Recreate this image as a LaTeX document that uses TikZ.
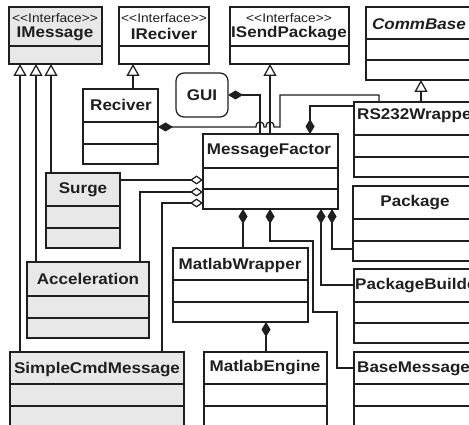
\documentclass[tikz,border=0pt]{standalone}
\usepackage{fontspec}
\setmainfont{Liberation Sans}[FakeStretch=1.1]
\usetikzlibrary{arrows.meta}

\definecolor{umlline}{gray}{0.12}
\definecolor{umlgray}{gray}{0.91}

\tikzset{
  cls/.style={draw=umlline, line width=1.25pt, fill=white, anchor=north west,
    outer sep=0pt, inner sep=0pt},
  msgbox/.style={cls, fill=umlgray},
  divline/.style={draw=umlline, line width=1.25pt},
  title/.style={font=\bfseries\fontsize{15.5}{15}\selectfont, text=umlline, inner sep=0pt},
  stereo/.style={font=\fontsize{12.5}{12}\selectfont, text=umlline, inner sep=0pt},
  link/.style={draw=umlline, line width=1.25pt},
  inh/.style={link, -{Triangle[open, length=12pt, width=13pt]}},
  comp/.style={link, {Diamond[length=15pt, width=9pt]}-},
  agg/.style={link, {Diamond[open, length=13pt, width=9pt]}-}
}

\begin{document}
\begin{tikzpicture}[x=1pt, y=-1pt]
    \useasboundingbox (0,0) rectangle (469,425);
    \clip (0,0) rectangle (469,425);

    % class boxes
    \node[msgbox, minimum width=93, minimum height=57] (imsg) at (9,7) {};
    \node[cls, minimum width=90, minimum height=57] (irec) at (119,7) {};
    \node[cls, minimum width=119, minimum height=57] (isend) at (230,7) {};
    \node[cls, minimum width=106, minimum height=73] (cbase) at (366,7) {};
    \node[cls, minimum width=124, minimum height=75] (rs232) at (354,102) {};
    \node[cls, minimum width=75, minimum height=75] (reciver) at (83,89) {};
    \node[cls, minimum width=135, minimum height=75] (mf) at (203,134) {};
    \node[msgbox, minimum width=74, minimum height=75] (surge) at (46,173) {};
    \node[msgbox, minimum width=122, minimum height=76] (accel) at (27,262) {};
    \node[msgbox, minimum width=174, minimum height=90] (simple) at (10,352) {};
    \node[cls, minimum width=135, minimum height=74] (mwrap) at (173,248) {};
    \node[cls, minimum width=123, minimum height=90] (mengine) at (204,352) {};
    \node[cls, minimum width=124, minimum height=75] (package) at (353,186) {};
    \node[cls, minimum width=124, minimum height=74] (pbuild) at (354,269) {};
    \node[cls, minimum width=124, minimum height=90] (basemsg) at (354,352) {};
    \node[cls, anchor=center, rounded corners=8pt, minimum width=52, minimum height=44,
      title] (gui) at (202,95) {GUI};

    % compartments
    \foreach \n/\y in {imsg/46, irec/46, isend/46, cbase/39, cbase/60, rs232/135, rs232/157,
        reciver/122, reciver/144, mf/168, mf/189, surge/206, surge/228, accel/296, accel/318,
        simple/384, simple/406, mwrap/280, mwrap/302, mengine/384, mengine/406,
        package/219, package/241, pbuild/302, pbuild/323, basemsg/384, basemsg/406}
      \draw[divline] (\n.west |- 0,\y) -- (\n.east |- 0,\y);

    % names
    \node[stereo] (imsg-s) at (55,18) {<{}<Interface>{}>};
    \node[title] (imsg-n) at (55,34) {IMessage};
    \node[stereo] (irec-s) at (164,18) {<{}<Interface>{}>};
    \node[title] (irec-n) at (164,34) {IReciver};
    \node[stereo] (isend-s) at (289,18) {<{}<Interface>{}>};
    \node[title] (isend-n) at (289,34) {ISendPackage};
    \node[title, font=\bfseries\itshape\fontsize{15.5}{15}\selectfont] (cbase-n) at (419,24) {CommBase};
    \node[title, anchor=west] (rs232-n) at (357,116) {RS232Wrapper};
    \node[title] (reciver-n) at (121,105) {Reciver};
    \node[title] (mf-n) at (269,151) {MessageFactor};
    \node[title] (surge-n) at (83,190) {Surge};
    \node[title] (accel-n) at (88,279) {Acceleration};
    \node[title] (simple-n) at (97,370) {SimpleCmdMessage};
    \node[title] (mwrap-n) at (240,265) {MatlabWrapper};
    \node[title] (mengine-n) at (265,368) {MatlabEngine};
    \node[title] (package-n) at (415,203) {Package};
    \node[title, anchor=west] (pbuild-n) at (355,286) {PackageBuilder};
    \node[title, anchor=west] (basemsg-n) at (357,369) {BaseMessage};

    % generalisation
    \draw[inh] (surge.north -| 51,0) -- (imsg.south -| 51,0);
    \draw[inh] (accel.north -| 36,0) -- (imsg.south -| 36,0);
    \draw[inh] (simple.north -| 20,0) -- (imsg.south -| 20,0);
    \draw[inh] (reciver.north -| 133,0) -- (irec.south -| 133,0);
    \draw[inh] (mf.north -| 270,0) -- (isend.south -| 270,0);
    \draw[inh] (rs232.north -| 421,0) -- (cbase.south -| 421,0);

    % composition
    \draw[comp] (gui.east) -| (mf.north -| 260,0);
    \draw[comp] (reciver.east |- 0,127) -- (256,127) .. controls (256,120) and (264,120) .. (264,127)
      -- (266,127) .. controls (266,120) and (274,120) .. (274,127) -- (280,127) -- (280,95)
      -| (rs232.north -| 379,0);
    \draw[comp] (mf.north -| 310,0) |- (rs232.west |- 0,106);
    \draw[comp] (mf.south -| 243,0) -- (mwrap.north -| 243,0);
    \draw[comp] (mf.south -| 270,0) |- (313,241) |- (337,312) |- (basemsg.west |- 0,368);
    \draw[comp] (mf.south -| 321,0) |- (pbuild.west |- 0,285);
    \draw[comp] (mf.south -| 332,0) |- (package.west |- 0,249);
    \draw[comp] (mwrap.south -| 266,0) -- (mengine.north -| 266,0);

    % aggregation
    \draw[agg] (mf.west |- 0,180) -- (surge.east |- 0,180);
    \draw[agg] (mf.west |- 0,192) -| (accel.north -| 140,0);
    \draw[agg] (mf.west |- 0,203) -| (simple.north -| 162,0);
  \end{tikzpicture}
\end{document}
